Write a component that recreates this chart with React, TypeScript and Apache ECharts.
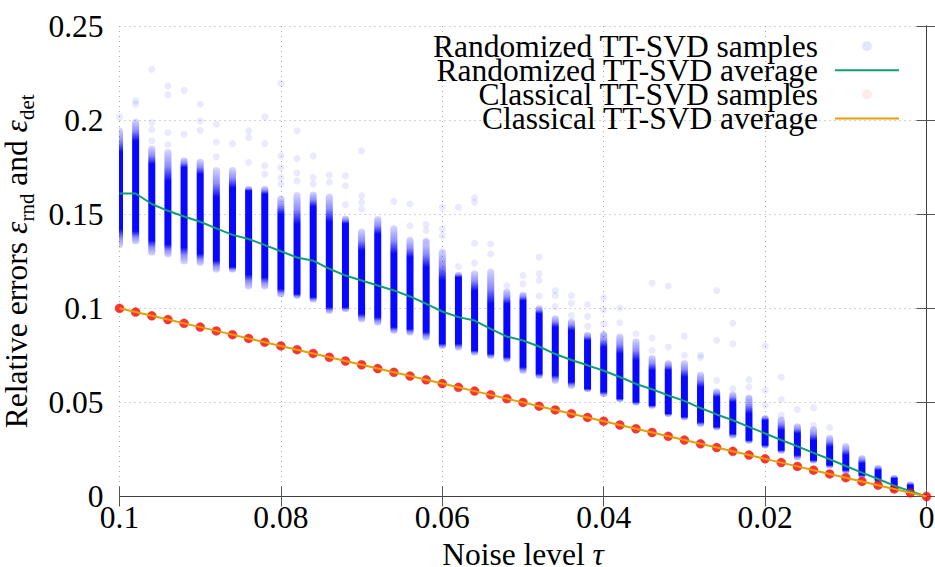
import React, { useEffect, useRef } from "react";
import * as echarts from "echarts";

const FONT = "Liberation Serif";
const FS = 31.5;

// Noise levels (x categories)
const taus = [
  0.1, 0.098, 0.096, 0.094, 0.092, 0.09, 0.088, 0.086, 0.084, 0.082,
  0.08, 0.078, 0.076, 0.074, 0.072, 0.07, 0.068, 0.066, 0.064, 0.062,
  0.06, 0.058, 0.056, 0.054, 0.052, 0.05, 0.048, 0.046, 0.044, 0.042,
  0.04, 0.038, 0.036, 0.034, 0.032, 0.03, 0.028, 0.026, 0.024, 0.022,
  0.02, 0.018, 0.016, 0.014, 0.012, 0.01, 0.008, 0.006, 0.004, 0.002, 0,
];

// Randomized TT-SVD average error
const randAvg = [
  0.161, 0.161, 0.1554, 0.1518, 0.1488, 0.146, 0.1425, 0.139, 0.1368, 0.1336,
  0.1303, 0.127, 0.1253, 0.121, 0.1174, 0.1148, 0.1121, 0.1095, 0.1063, 0.1024,
  0.0983, 0.0953, 0.0935, 0.0891, 0.085, 0.0829, 0.0797, 0.0757, 0.0725, 0.0697,
  0.0668, 0.0635, 0.0598, 0.057, 0.0537, 0.0508, 0.047, 0.0436, 0.0405, 0.037,
  0.0335, 0.03, 0.0266, 0.0232, 0.0198, 0.0162, 0.0127, 0.0093, 0.0058, 0.0028, 0,
];

// Randomized TT-SVD samples: extent of the sample cloud per noise level
const bandLightHi = [
  0.195, 0.1996, 0.1854, 0.1836, 0.1792, 0.1784, 0.174, 0.174, 0.164, 0.164,
  0.1589, 0.1607, 0.161, 0.16, 0.1483, 0.1413, 0.148, 0.143, 0.1369, 0.136,
  0.1307, 0.1183, 0.1192, 0.1201, 0.1094, 0.1077, 0.1006, 0.0953, 0.0935, 0.0865,
  0.0865, 0.0856, 0.083, 0.0741, 0.0715, 0.0715, 0.0653, 0.0564, 0.0547, 0.0529,
  0.0423, 0.0414, 0.0379, 0.0362, 0.0317, 0.0273, 0.021, 0.0158, 0.0105, 0.007, 0,
];
const bandLightLo = [
  0.133, 0.135, 0.129, 0.128, 0.1244, 0.1236, 0.12, 0.12, 0.111, 0.111,
  0.1068, 0.106, 0.104, 0.098, 0.099, 0.0935, 0.0918, 0.0874, 0.0865, 0.0838,
  0.0794, 0.0785, 0.0759, 0.0741, 0.0723, 0.0661, 0.0635, 0.0609, 0.0582, 0.0564,
  0.0538, 0.0511, 0.0493, 0.0476, 0.0432, 0.0414, 0.0379, 0.0361, 0.0317, 0.029,
  0.0264, 0.0237, 0.0202, 0.0184, 0.0158, 0.013, 0.0105, 0.0078, 0.0034, 0.002, 0,
];
// Dense (saturated) core of the sample cloud
const bandDarkHi = [
  0.183, 0.189, 0.1766, 0.1677, 0.1748, 0.1713, 0.159, 0.164, 0.1624, 0.1607,
  0.15, 0.1448, 0.154, 0.146, 0.145, 0.1307, 0.1395, 0.129, 0.1271, 0.1218,
  0.1148, 0.1165, 0.1094, 0.1024, 0.1024, 0.1041, 0.0971, 0.09, 0.0883, 0.083,
  0.0794, 0.0759, 0.0723, 0.0671, 0.0671, 0.0635, 0.0582, 0.0529, 0.0502, 0.0441,
  0.0405, 0.0352, 0.0335, 0.0299, 0.0264, 0.022, 0.0176, 0.014, 0.0096, 0.0061, 0,
];
const bandDarkLo = [
  0.142, 0.141, 0.136, 0.134, 0.1324, 0.129, 0.1253, 0.122, 0.118, 0.1165,
  0.1103, 0.1076, 0.106, 0.1006, 0.1006, 0.097, 0.0953, 0.09, 0.0891, 0.0874,
  0.0812, 0.0812, 0.0776, 0.0759, 0.0741, 0.0688, 0.0653, 0.0644, 0.0609, 0.0573,
  0.0556, 0.052, 0.0502, 0.0484, 0.0441, 0.0423, 0.0396, 0.037, 0.0334, 0.0299,
  0.0273, 0.0246, 0.022, 0.0193, 0.0167, 0.014, 0.0114, 0.0087, 0.0038, 0.0025, 0,
];
// Isolated randomized samples (outliers) per noise level
const randOutliers: number[][] = [
  [0.2017], [0.2102, 0.2084], [0.227, 0.1987, 0.195, 0.189], [0.2181, 0.2134, 0.1934, 0.187],
  [0.2158, 0.1925], [0.2084, 0.1996, 0.1946], [0.1978, 0.1884, 0.1805], [0.1875],
  [0.1943, 0.1907, 0.1775], [0.2017, 0.1875, 0.1757, 0.1713], [0.2195, 0.181, 0.1748, 0.1695, 0.166],
  [0.1943, 0.1796, 0.172, 0.1677], [0.181, 0.1695, 0.166], [0.1708, 0.167],
  [0.1704, 0.1651, 0.155], [0.1837, 0.1598, 0.1563, 0.1528], [], [0.1568],
  [0.1554, 0.1439], [0.1445, 0.1413, 0.136], [0.1537, 0.1422, 0.1386], [0.1537, 0.1222],
  [0.1589, 0.1563, 0.1346, 0.124], [0.1342, 0.1289], [0.1121], [0.1174, 0.113],
  [0.1272, 0.1183, 0.1148, 0.1065], [0.1095, 0.1068, 0.1009], [0.1068, 0.1027, 0.0962],
  [0.102, 0.0957, 0.0905], [0.1056, 0.0992, 0.0918, 0.0865], [0.1001, 0.0923], [0.0865],
  [0.1134, 0.0842, 0.0776], [0.1118, 0.0794], [0.0852, 0.075], [0.0752, 0.0738],
  [0.1095, 0.083, 0.0617], [0.0921, 0.0812, 0.0573], [0.0621, 0.0582, 0.0524],
  [0.08, 0.0565, 0.0485], [0.0635, 0.0515, 0.0432], [0.0462], [0.0471, 0.0379], [0.0367],
  [], [], [], [], [], [],
];

// Classical TT-SVD error (samples identical, average equal)
const classicalErr = [
  0.1, 0.098, 0.096, 0.094, 0.092, 0.09, 0.088, 0.086, 0.084, 0.082,
  0.08, 0.078, 0.076, 0.074, 0.072, 0.07, 0.068, 0.066, 0.064, 0.062,
  0.06, 0.058, 0.056, 0.054, 0.052, 0.05, 0.048, 0.046, 0.044, 0.042,
  0.04, 0.038, 0.036, 0.034, 0.032, 0.03, 0.028, 0.026, 0.024, 0.022,
  0.02, 0.018, 0.016, 0.014, 0.012, 0.01, 0.008, 0.006, 0.004, 0.002, 0,
];

const S_RAND = "Randomized TT-SVD samples";
const A_RAND = "Randomized TT-SVD average";
const S_CLAS = "Classical TT-SVD samples";
const A_CLAS = "Classical TT-SVD average";

const GREEN = "#129c78";
const ORANGE = "#e69f00";
const LINE_ICON = "path://M0,0L64,0L64,2L0,2Z";

function renderBand(_params: any, api: any) {
  const x = api.value(0);
  const pTop = api.coord([x, api.value(1)]);
  const pBot = api.coord([x, api.value(2)]);
  const dTop = api.coord([x, api.value(3)]);
  const dBot = api.coord([x, api.value(4)]);
  const w = 7;
  const ext = 2;
  let top = pTop[1] - ext;
  let bot = pBot[1] + ext;
  if (bot - top < w) {
    const c = (top + bot) / 2;
    top = c - w / 2;
    bot = c + w / 2;
  }
  const h = bot - top;
  const clamp = (t: number) => Math.min(1, Math.max(0, t));
  const s1 = clamp((dTop[1] - top) / h);
  const s2 = Math.max(s1, clamp((dBot[1] - top) / h));
  const c0 = "rgba(0,0,255,0.14)";
  const cm = "rgba(0,0,255,0.45)";
  const cd = "rgba(0,0,255,0.97)";
  const fill = new echarts.graphic.LinearGradient(0, 0, 0, 1, [
    { offset: 0, color: c0 },
    { offset: s1 * 0.55, color: cm },
    { offset: s1, color: cd },
    { offset: s2, color: cd },
    { offset: s2 + (1 - s2) * 0.45, color: cm },
    { offset: 1, color: c0 },
  ]);
  return {
    type: "rect",
    shape: { x: pTop[0] - w / 2, y: top, width: w, height: h, r: w / 2 },
    style: { fill },
  };
}

export default function App() {
  const ref = useRef<HTMLDivElement>(null);
  useEffect(() => {
    if (!ref.current) return;
    const chart = echarts.init(ref.current, undefined, { renderer: "svg" });

    const bandData = taus.map((t, i) => [t, bandLightHi[i], bandLightLo[i], bandDarkHi[i], bandDarkLo[i]]);
    const outlierData: number[][] = [];
    taus.forEach((t, i) => randOutliers[i].forEach((v) => outlierData.push([t, v])));
    const avgData = taus.map((t, i) => [t, randAvg[i]]);
    const clasData = taus.map((t, i) => [t, classicalErr[i]]);

    const axisLineStyle = { color: "#404040", width: 1 };
    const tickStyle = { show: true, inside: true, length: 10, lineStyle: { color: "#555", width: 1 } };
    const splitStyle = { show: true, lineStyle: { color: "#a8a8a8", width: 1, type: [1, 4] as any } };

    chart.setOption({
      animation: false,
      backgroundColor: "#fff",
      grid: { left: 119.5, right: 8.5, top: 26, bottom: 70.5, containLabel: false, outerBoundsMode: "none" },
      legend: {
        orient: "vertical",
        right: 36,
        top: 30,
        padding: 0,
        align: "right",
        itemWidth: 64,
        itemHeight: 10,
        itemGap: -7.8,
        selectedMode: false,
        symbolKeepAspect: true,
        textStyle: {
          fontFamily: FONT,
          fontSize: FS,
          color: "#000",
          padding: [0, 12, 0, 0],
        },
        data: [
          { name: S_RAND, icon: "circle", itemStyle: { color: "rgba(0,0,255,0.1)", borderWidth: 0 } },
          { name: A_RAND, icon: LINE_ICON, itemStyle: { color: GREEN, borderWidth: 0 } },
          { name: S_CLAS, icon: "circle", itemStyle: { color: "rgba(255,0,0,0.1)", borderWidth: 0 } },
          { name: A_CLAS, icon: LINE_ICON, itemStyle: { color: ORANGE, borderWidth: 0 } },
        ],
      },
      xAxis: [
        {
          type: "value",
          min: 0,
          max: 0.1,
          interval: 0.02,
          inverse: true,
          position: "bottom",
          axisLine: { show: true, lineStyle: axisLineStyle },
          axisTick: tickStyle,
          axisLabel: { fontFamily: FONT, fontSize: FS, color: "#000", margin: 5 },
          splitLine: splitStyle,
          name: "{a|Noise level }{t|τ}",
          nameLocation: "middle",
          nameGap: 43,
          nameTextStyle: {
            fontFamily: FONT,
            fontSize: FS,
            color: "#000",
            lineHeight: 26,
            rich: {
              a: { fontFamily: FONT, fontSize: FS, color: "#000", lineHeight: 26 },
              t: { fontFamily: FONT, fontSize: FS, color: "#000", fontStyle: "italic", lineHeight: 26 },
            },
          },
        },
        {
          type: "value",
          min: 0,
          max: 0.1,
          interval: 0.02,
          inverse: true,
          position: "top",
          axisLine: { show: true, lineStyle: axisLineStyle },
          axisTick: tickStyle,
          axisLabel: { show: false },
          splitLine: { show: false },
        },
      ],
      yAxis: [
        {
          type: "value",
          min: 0,
          max: 0.25,
          interval: 0.05,
          position: "left",
          axisLine: { show: true, lineStyle: axisLineStyle },
          axisTick: tickStyle,
          axisLabel: { fontFamily: FONT, fontSize: FS, color: "#000", margin: 16 },
          splitLine: splitStyle,
          name: "{a|Relative errors }{e|ε}{s|rnd}{a| and }{e|ε}{s|det}",
          nameLocation: "middle",
          nameGap: 72,
          nameTextStyle: {
            fontFamily: FONT,
            fontSize: FS,
            color: "#000",
            rich: {
              a: { fontFamily: FONT, fontSize: FS, color: "#000", lineHeight: 42, verticalAlign: "middle" },
              e: { fontFamily: FONT, fontSize: FS, color: "#000", fontStyle: "italic", lineHeight: 42, verticalAlign: "middle" },
              s: { fontFamily: FONT, fontSize: 21, color: "#000", lineHeight: 21, verticalAlign: "bottom" },
            },
          },
        },
        {
          type: "value",
          min: 0,
          max: 0.25,
          interval: 0.05,
          position: "right",
          axisLine: { show: true, lineStyle: axisLineStyle },
          axisTick: tickStyle,
          axisLabel: { show: false },
          splitLine: { show: false },
        },
      ],
      series: [
        {
          name: S_RAND,
          type: "custom",
          renderItem: renderBand,
          encode: { x: 0, y: [1, 2, 3, 4] },
          data: bandData,
          clip: true,
          silent: true,
        },
        {
          name: S_RAND,
          type: "scatter",
          symbol: "circle",
          symbolSize: 7,
          itemStyle: { color: "rgba(0,0,255,0.11)" },
          data: outlierData,
          silent: true,
        },
        {
          name: A_RAND,
          type: "line",
          symbol: "none",
          lineStyle: { color: GREEN, width: 2 },
          itemStyle: { color: GREEN },
          data: avgData,
          silent: true,
        },
        {
          name: S_CLAS,
          type: "scatter",
          symbol: "circle",
          symbolSize: 9,
          itemStyle: { color: "#ff0000", borderColor: "rgba(170,0,0,0.5)", borderWidth: 0.6 },
          data: clasData,
          silent: true,
        },
        {
          name: A_CLAS,
          type: "line",
          symbol: "none",
          lineStyle: { color: ORANGE, width: 2 },
          itemStyle: { color: ORANGE },
          data: clasData,
          silent: true,
        },
      ],
    });
    return () => chart.dispose();
  }, []);

  return (
    <div
      ref={ref}
      style={{ position: "fixed", left: 0, top: 0, width: 935, height: 567, background: "#fff" }}
    />
  );
}
